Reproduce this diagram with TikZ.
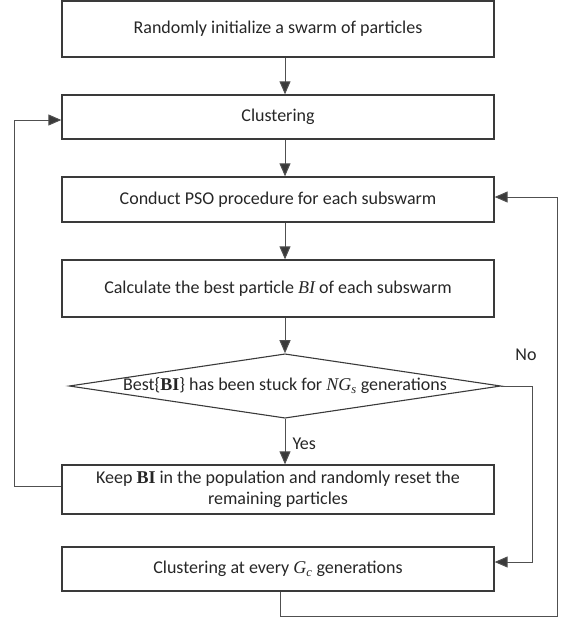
\documentclass[tikz,border=0pt]{standalone}
\usepackage{fontspec}
\setmainfont{Carlito}
\newfontfamily\tms{Liberation Serif}
\usetikzlibrary{shapes.geometric,arrows.meta}
\definecolor{boxline}{HTML}{3A3A3A}
\definecolor{conline}{HTML}{505050}
\begin{document}
\begin{tikzpicture}[x=1pt,y=-1pt,
  every node/.style={font=\fontsize{18}{21}\selectfont,text=black!85},
  procbox/.style={draw=boxline,line width=1.3pt,rectangle,minimum width=432pt,inner sep=0pt,align=center},
  decbox/.style={draw=boxline,line width=1.1pt,diamond,aspect=6.7,minimum width=424pt,minimum height=63pt,inner sep=0pt},
  conn/.style={draw=conline,line width=1pt,-{Triangle[length=13pt,width=11pt,fill=boxline]}},
  lbl/.style={inner sep=1pt}]
\useasboundingbox (0,0) rectangle (568,619);
\newcommand{\mi}[1]{{\tms\itshape #1}}
\newcommand{\mb}[1]{{\tms\bfseries #1}}
\node[procbox,minimum height=56pt] (init) at (278,29) {Randomly initialize a swarm of particles};
\node[procbox,minimum height=44pt] (clu) at (278,117) {Clustering};
\node[procbox,minimum height=45pt] (pso) at (278,199.5) {Conduct PSO procedure for each subswarm};
\node[procbox,minimum height=57pt] (best) at (278,288.5) {Calculate the best particle \mi{BI} of each subswarm};
\node[decbox] (dia) at (285,386) {Best\{\mb{BI}\} has been stuck for \mi{NG\textsubscript{s}} generations};
\node[procbox,minimum height=49pt] (keep) at (278,489.5) {Keep \mb{BI} in the population and randomly reset the\\remaining particles};
\node[procbox,minimum height=44pt] (cge) at (278,569) {Clustering at every \mi{G\textsubscript{c}} generations};
\coordinate (col) at (285,0);
\coordinate (lt) at (14,486);
\coordinate (lb) at (14,120);
\coordinate (r1a) at (532,386);
\coordinate (r1b) at (532,562);
\coordinate (ba) at (280,616);
\coordinate (bb) at (557,616);
\coordinate (bc) at (557,197);
\draw[conn] (init.south -| col) -- (clu.north -| col);
\draw[conn] (clu.south -| col) -- (pso.north -| col);
\draw[conn] (pso.south -| col) -- (best.north -| col);
\draw[conn] (best.south -| col) -- (dia.north);
\draw[conn] (dia.south) -- node[lbl,right,pos=0.55,xshift=6pt] (yes) {Yes} (keep.north -| col);
\draw[conn] (keep.west |- lt) -- (lt) -- (lb) -- (clu.west |- lb);
\draw[conn] (dia.east) -- (r1a) -- (r1b) -- (cge.east |- r1b);
\draw[conn] (cge.south -| ba) -- (ba) -- (bb) -- (bc) -- (pso.east |- bc);
\node[lbl] (no) at (526,355) {No};
\end{tikzpicture}
\end{document}
